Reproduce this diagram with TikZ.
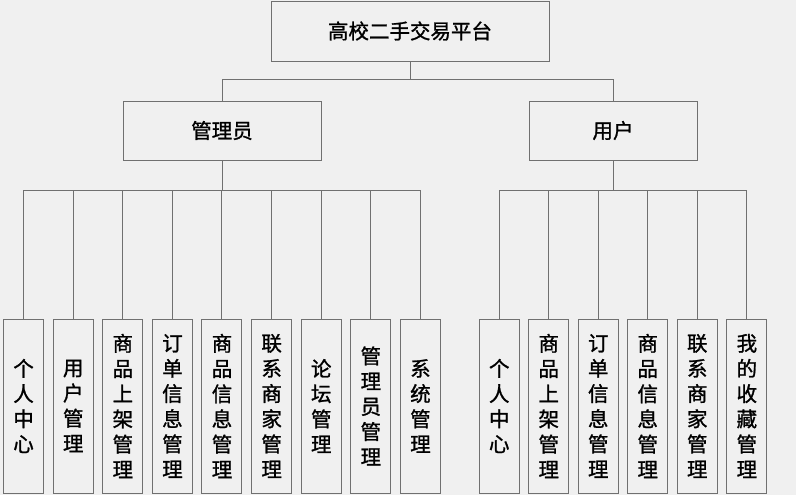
\documentclass[tikz,border=0pt]{standalone}
\usepackage{fontspec}
\newfontfamily\cjk[FakeBold=1.2]{Noto Sans CJK SC}
\definecolor{bg}{HTML}{F0F0F0}
\definecolor{ln}{HTML}{707070}
\begin{document}
\begin{tikzpicture}[x=1pt,y=1pt,
  box/.style={draw=ln,line width=0.9pt,rectangle,inner sep=0pt,font=\cjk\fontsize{20.5pt}{25.2pt}\selectfont,text=black},
  leaf/.style={box,minimum width=40pt,minimum height=174pt,align=center,text width=20pt},
  conn/.style={draw=ln,line width=0.9pt}]
\useasboundingbox (0,0) rectangle (796,-495);
\fill[bg] (0,0) rectangle (796,-495);
\node[box,minimum width=278pt,minimum height=60pt] (root) at (410,-31) {高校二手交易平台};
\node[box,minimum width=198pt,minimum height=59pt] (adm) at (222,-130.5) {管理员};
\node[box,minimum width=168pt,minimum height=59pt] (usr) at (613,-130.5) {用户};
\draw[conn] (root.south) -- ++(0,-18) -| (adm.north);
\draw[conn] (root.south) -- ++(0,-18) -| (usr.north);
% admin children
\node[leaf] (a1) at (23.3,-406) {个\\人\\中\\心};
\node[leaf] (a2) at (73,-406) {用\\户\\管\\理};
\node[leaf] (a3) at (122.6,-406) {商\\品\\上\\架\\管\\理};
\node[leaf] (a4) at (172.2,-406) {订\\单\\信\\息\\管\\理};
\node[leaf] (a5) at (221.8,-406) {商\\品\\信\\息\\管\\理};
\node[leaf] (a6) at (271.4,-406) {联\\系\\商\\家\\管\\理};
\node[leaf] (a7) at (321,-406) {论\\坛\\管\\理};
\node[leaf] (a8) at (370.6,-406) {管\\理\\员\\管\\理};
\node[leaf] (a9) at (420.2,-406) {系\\统\\管\\理};
\foreach \c in {a1,a2,a3,a4,a5,a6,a7,a8,a9}
  \draw[conn] (adm.south) -- ++(0,-30) -| (\c.north);
% user children
\node[leaf] (u1) at (499,-406) {个\\人\\中\\心};
\node[leaf] (u2) at (548.5,-406) {商\\品\\上\\架\\管\\理};
\node[leaf] (u3) at (598,-406) {订\\单\\信\\息\\管\\理};
\node[leaf] (u4) at (647.5,-406) {商\\品\\信\\息\\管\\理};
\node[leaf] (u5) at (697,-406) {联\\系\\商\\家\\管\\理};
\node[leaf] (u6) at (746.6,-406) {我\\的\\收\\藏\\管\\理};
\foreach \c in {u1,u2,u3,u4,u5,u6}
  \draw[conn] (usr.south) -- ++(0,-30) -| (\c.north);
\end{tikzpicture}
\end{document}
